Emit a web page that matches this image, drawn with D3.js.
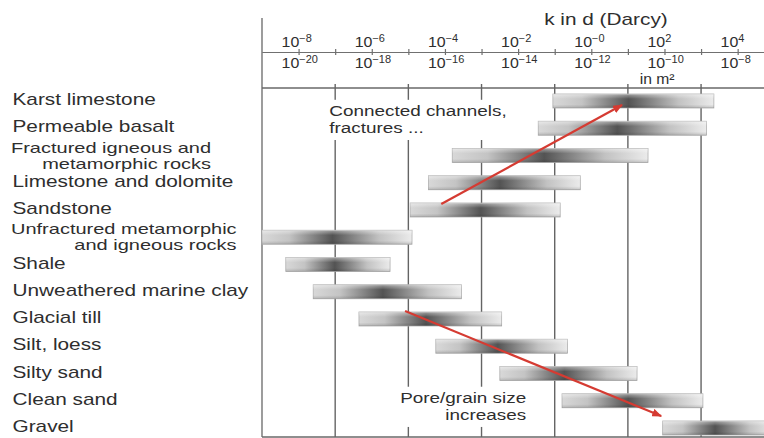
<!DOCTYPE html>
<html>
<head>
<meta charset="utf-8">
<script src="https://cdn.jsdelivr.net/npm/d3@7"></script>
<style>
body { margin: 0; background: #fff; }
text { font-family: "Liberation Sans", Arial, Helvetica, sans-serif; fill: #2e2e2e; }
</style>
</head>
<body>
<div id="chart"></div>
<script>
// rock types, top to bottom ("|" splits a label over two lines)
var rocks = ["Karst limestone", "Permeable basalt", "Fractured igneous and|metamorphic rocks",
    "Limestone and dolomite", "Sandstone", "Unfractured metamorphic|and igneous rocks", "Shale",
    "Unweathered marine clay", "Glacial till", "Silt, loess", "Silty sand", "Clean sand", "Gravel"];

// permeability range of each rock, log10 of k in darcy
var logMin = [-1.05, -1.45, -3.8, -4.45, -4.95, -9.0, -8.35, -7.6, -6.35, -4.25, -2.5, -0.8, 1.95];
var logMax = [3.35, 3.15, 1.55, -0.3, -0.85, -4.9, -5.5, -3.55, -2.45, -0.65, 1.25, 3.05, 5.0];

// tick labels: darcy on top, m2 below
var darcyExp = ["\u22128", "\u22126", "\u22124", "\u22122", "\u22120", "2", "4"];
var m2Exp = ["\u221220", "\u221218", "\u221216", "\u221214", "\u221212", "\u221210", "\u22128"];
var labelPow = [-8, -6, -4, -2, 0, 2, 4];
var gridPow = [-7, -5, -3, -1, 1, 3];

// trend arrows: [log10 k, row] start and end
var arrowFrom = [[-4.1, 3.78], [-5.09, 7.71]];
var arrowTo = [[0.84, 0.15], [1.91, 11.56]];

// notes next to the arrows
var noteText = [["Connected channels,", "fractures ..."], ["Pore/grain size", "increases"]];
var noteAt = [[-7.16, 0.55], [-1.78, 11.08]];
var noteAnchor = ["start", "end"];

var svgWidth = 764;
var svgHeight = 438;
var left = 262;
var axisY = 52;
var plotTop = 88;
var plotBottom = 437;
var sx = 1.3; // the source type is drawn wide

var svg = d3.select("#chart")
            .append("svg")
            .attr("width", svgWidth)
            .attr("height", svgHeight);

var x = d3.scaleLog()
          .domain([1e-9, Math.pow(10, 4.72)])
          .range([left, svgWidth]);
var y = d3.scaleLinear()
          .domain([0, rocks.length - 1])
          .range([101, 428]);

var defs = svg.append("defs");
var grad = defs.append("linearGradient").attr("id", "barGrad");
[[0, "#d8d8d8"], [0.18, "#c4c4c4"], [0.47, "#535353"], [0.78, "#c2c2c2"], [1, "#ebebeb"]]
    .forEach(function(s) {
        grad.append("stop").attr("offset", s[0]).attr("stop-color", s[1]);
    });
var shine = defs.append("linearGradient").attr("id", "barShine")
                .attr("x1", 0).attr("x2", 0).attr("y1", 0).attr("y2", 1);
[[0, "#fff", 0.45], [0.35, "#fff", 0], [0.75, "#000", 0], [1, "#000", 0.15]].forEach(function(s) {
    shine.append("stop").attr("offset", s[0]).attr("stop-color", s[1]).attr("stop-opacity", s[2]);
});
defs.append("marker")
    .attr("id", "head")
    .attr("markerUnits", "userSpaceOnUse")
    .attr("viewBox", "0 0 10 8")
    .attr("refX", 9).attr("refY", 4)
    .attr("markerWidth", 10).attr("markerHeight", 8)
    .attr("orient", "auto")
    .append("path").attr("d", "M0,0 L10,4 L0,8 Z").attr("fill", "#d53b32");

// frame
var frame = svg.append("g").attr("stroke", "#686868").attr("stroke-width", 1.3);
frame.append("line").attr("x1", left).attr("x2", left).attr("y1", 18).attr("y2", plotBottom);
frame.append("line").attr("x1", left).attr("x2", svgWidth).attr("y1", plotTop).attr("y2", plotTop);
frame.append("line").attr("x1", left).attr("x2", svgWidth).attr("y1", plotBottom).attr("y2", plotBottom);

// scale axis with ticks on both sides
var allTicks = labelPow.concat(gridPow).map(function(p) { return Math.pow(10, p); });
[d3.axisTop(x), d3.axisBottom(x)].forEach(function(ax) {
    var g = svg.append("g")
               .attr("transform", `translate(0, ${axisY})`)
               .call(ax.tickValues(allTicks).tickSize(3).tickSizeOuter(0).tickFormat(""));
    g.selectAll("path, line").attr("stroke", "#707070").attr("stroke-width", 1.2);
});

function powerLabel(sel, ex, yy) {
    var t = sel.append("text")
               .attr("transform", function(d, i) { return `translate(${x(Math.pow(10, labelPow[i]))}, ${yy}) scale(1.1,1)`; })
               .attr("x", -15.5)
               .style("font-size", "14.5px")
               .text("10");
    t.append("tspan")
     .attr("dy", -5)
     .style("font-size", "10px")
     .text(function(d, i) { return ex[i]; });
}
var tickLabels = svg.append("g");
powerLabel(tickLabels.selectAll("g.darcy").data(labelPow).enter().append("g").attr("class", "darcy"), darcyExp, axisY - 5);
powerLabel(tickLabels.selectAll("g.m2").data(labelPow).enter().append("g").attr("class", "m2"), m2Exp, axisY + 16);

svg.append("text")
   .attr("transform", `translate(${x(Math.pow(10, 0.4))}, 25) scale(${sx},1)`)
   .attr("text-anchor", "middle")
   .style("font-size", "16px")
   .text("k in d (Darcy)");
svg.append("text")
   .attr("transform", `translate(${x(Math.pow(10, 1.8))}, 84) scale(1.12,1)`)
   .attr("text-anchor", "middle")
   .style("font-size", "14px")
   .text("in m\u00b2");

// vertical grid lines
svg.append("g").selectAll("line")
   .data(gridPow)
   .enter()
   .append("line")
   .attr("x1", d => x(Math.pow(10, d)))
   .attr("x2", d => x(Math.pow(10, d)))
   .attr("y1", plotTop - 4)
   .attr("y2", plotBottom)
   .attr("stroke", "#646464")
   .attr("stroke-width", 1.4);

// notes, on a white patch that cuts the grid
noteText.forEach(function(lines, i) {
    var g = svg.append("g");
    var box = g.append("rect").attr("fill", "#fff");
    lines.forEach(function(s, j) {
        g.append("text")
         .attr("transform", `translate(${x(Math.pow(10, noteAt[i][0]))}, ${y(noteAt[i][1]) + j * 17.5}) scale(1.26,1)`)
         .attr("text-anchor", noteAnchor[i])
         .style("font-size", "15px")
         .text(s);
    });
    var b = g.node().getBBox();
    box.attr("x", b.x - 4).attr("y", b.y - 3).attr("width", b.width + 8).attr("height", b.height + 6);
});

// bars
var bars = svg.append("g");
rocks.forEach(function(r, i) {
    var x0 = x(Math.pow(10, logMin[i]));
    var x1 = x(Math.pow(10, logMax[i]));
    bars.append("rect")
        .attr("x", x0).attr("y", y(i) - 7)
        .attr("width", x1 - x0).attr("height", 14)
        .attr("fill", "url(#barGrad)")
        .attr("stroke", "#b0b0b0").attr("stroke-width", 0.8);
    bars.append("rect")
        .attr("x", x0).attr("y", y(i) - 7)
        .attr("width", x1 - x0).attr("height", 14)
        .attr("fill", "url(#barShine)");
});

// rock labels
var labels = svg.append("g");
var sx2 = 1.4;
rocks.forEach(function(r, i) {
    var parts = r.split("|");
    if (parts.length === 1) {
        labels.append("text")
              .attr("transform", `translate(12.5, ${y(i) + 4}) scale(${sx},1)`)
              .style("font-size", "16px")
              .text(r);
    } else {
        var first = labels.append("text")
              .attr("transform", `translate(11, ${y(i) - 3}) scale(${sx2},1)`)
              .style("font-size", "14.3px")
              .text(parts[0]);
        var w = first.node().getComputedTextLength() * sx2;
        labels.append("text")
              .attr("transform", `translate(${11 + w}, ${y(i) + 13}) scale(${sx2},1)`)
              .attr("text-anchor", "end")
              .style("font-size", "14.3px")
              .text(parts[1]);
    }
});

// trend arrows
svg.append("g").selectAll("line")
   .data(arrowFrom)
   .enter()
   .append("line")
   .attr("x1", d => x(Math.pow(10, d[0])))
   .attr("y1", d => y(d[1]))
   .attr("x2", (d, i) => x(Math.pow(10, arrowTo[i][0])))
   .attr("y2", (d, i) => y(arrowTo[i][1]))
   .attr("stroke", "#d53b32")
   .attr("stroke-width", 2.2)
   .attr("marker-end", "url(#head)");
</script>
</body>
</html>
